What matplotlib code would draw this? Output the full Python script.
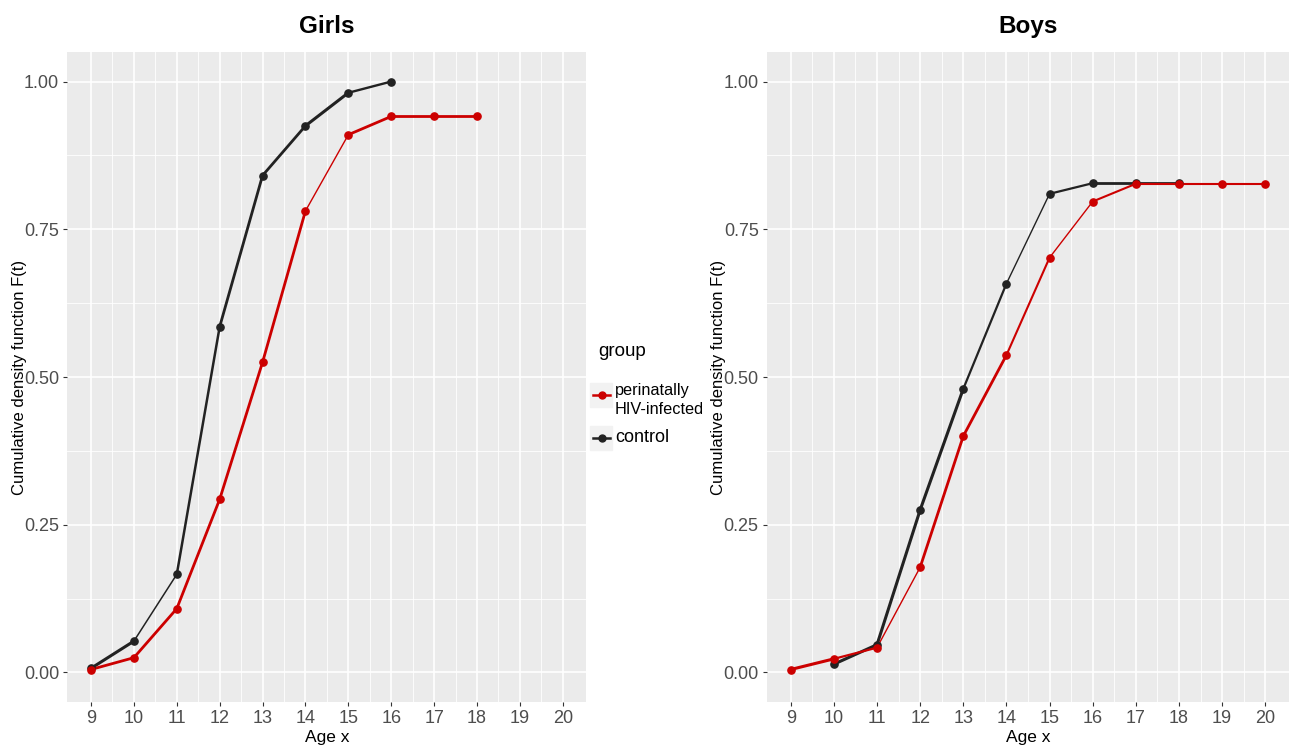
import matplotlib.pyplot as plt
from matplotlib.lines import Line2D
from matplotlib.patches import Rectangle

plt.rcParams['font.family'] = ['Liberation Sans', 'DejaVu Sans']

# cumulative proportions by age
ages_girls_hiv = [9, 10, 11, 12, 13, 14, 15, 16, 17, 18]
girls_hiv = [0.005, 0.025, 0.108, 0.293, 0.525, 0.781, 0.910, 0.941, 0.941, 0.941]
ages_girls_ctl = [9, 10, 11, 12, 13, 14, 15, 16]
girls_ctl = [0.007, 0.053, 0.166, 0.585, 0.841, 0.925, 0.981, 1.000]

ages_boys_hiv = [9, 10, 11, 12, 13, 14, 15, 16, 17, 18, 19, 20]
boys_hiv = [0.005, 0.023, 0.042, 0.178, 0.400, 0.537, 0.702, 0.797, 0.827, 0.827, 0.827, 0.827]
ages_boys_ctl = [10, 11, 12, 13, 14, 15, 16, 17, 18]
boys_ctl = [0.014, 0.047, 0.275, 0.480, 0.658, 0.810, 0.828, 0.828, 0.828]

# segment widths (line size varies between ages)
w_girls_hiv = [2.0, 2.0, 2.0, 2.0, 2.0, 1.0, 2.0, 2.0, 2.0]
w_girls_ctl = [2.2, 1.1, 1.8, 2.0, 2.0, 2.2, 1.7]
w_boys_hiv = [2.2, 1.6, 1.0, 2.0, 2.0, 1.5, 1.0, 1.5, 1.5, 1.5, 1.5]
w_boys_ctl = [2.2, 2.2, 2.2, 1.6, 1.0, 1.6, 2.0, 2.0]

xticks = list(range(9, 21))
yticks = [0.0, 0.25, 0.5, 0.75, 1.0]
group_labels = ['perinatally\nHIV-infected', 'control']
RED = '#CC0000'
BLACK = '#222222'
W, H = 1291, 745


def draw_series(ax, x, y, widths, color):
    for i in range(len(x) - 1):
        ax.plot(x[i:i + 2], y[i:i + 2], color=color, lw=widths[i],
                solid_capstyle='round', zorder=3)
    ax.plot(x, y, 'o', color=color, ms=5.2, zorder=4)


def style_axes(ax, title):
    ax.set_facecolor('#EBEBEB')
    ax.set_xlim(8.45, 20.55)
    ax.set_ylim(-0.05, 1.05)
    ax.set_xticks(xticks)
    ax.set_xticks([x + 0.5 for x in xticks[:-1]], minor=True)
    ax.set_yticks(yticks)
    ax.set_yticklabels(['%.2f' % v for v in yticks])
    ax.set_yticks([0.125, 0.375, 0.625, 0.875], minor=True)
    ax.grid(which='major', color='white', lw=1.2, zorder=0)
    ax.grid(which='minor', color='white', lw=0.6, zorder=0)
    ax.set_axisbelow(True)
    for s in ax.spines.values():
        s.set_visible(False)
    ax.tick_params(which='major', length=3, width=0.8, color='#333333',
                   labelsize=13, labelcolor='#4D4D4D', pad=3)
    ax.tick_params(which='minor', length=0)
    ax.set_title(title, fontsize=17.5, fontweight='bold', pad=14)
    ax.set_xlabel('Age x', fontsize=12.5, labelpad=2)
    ax.set_ylabel('Cumulative density function F(t)', fontsize=12, labelpad=-2)


fig = plt.figure(figsize=(W / 100, H / 100), dpi=100)
ax1 = fig.add_axes([67.4 / W, 1 - 702 / H, 519 / W, 650 / H])
ax2 = fig.add_axes([767 / W, 1 - 702 / H, 522 / W, 650 / H])

draw_series(ax1, ages_girls_ctl, girls_ctl, w_girls_ctl, BLACK)
draw_series(ax1, ages_girls_hiv, girls_hiv, w_girls_hiv, RED)
style_axes(ax1, 'Girls')

draw_series(ax2, ages_boys_ctl, boys_ctl, w_boys_ctl, BLACK)
draw_series(ax2, ages_boys_hiv, boys_hiv, w_boys_hiv, RED)
style_axes(ax2, 'Boys')

# legend between the panels: grey key boxes, line+point keys, labels
fig.text(598 / W, 1 - 352 / H, 'group', fontsize=13.5, va='center', ha='left')
legend_rows = [(RED, group_labels[0], 383, 11.7), (BLACK, group_labels[1], 426, 13)]
for color, label, ytop, fs in legend_rows:
    yc = ytop + 12
    fig.add_artist(Rectangle((590 / W, 1 - (ytop + 24) / H), 22 / W, 24 / H,
                             transform=fig.transFigure, color='#F2F2F2', zorder=1))
    fig.add_artist(Line2D([593 / W, 610 / W], [1 - yc / H, 1 - yc / H],
                          transform=fig.transFigure, color=color, lw=1.8, zorder=2))
    fig.add_artist(Line2D([601.5 / W], [1 - yc / H], transform=fig.transFigure,
                          color=color, marker='o', ms=5, zorder=3))
    fig.text(615 / W, 1 - (yc + 5 * (label.count('\n'))) / H, label, fontsize=fs,
             va='center', ha='left', linespacing=1.25)

fig.savefig('out.png', dpi=100)
